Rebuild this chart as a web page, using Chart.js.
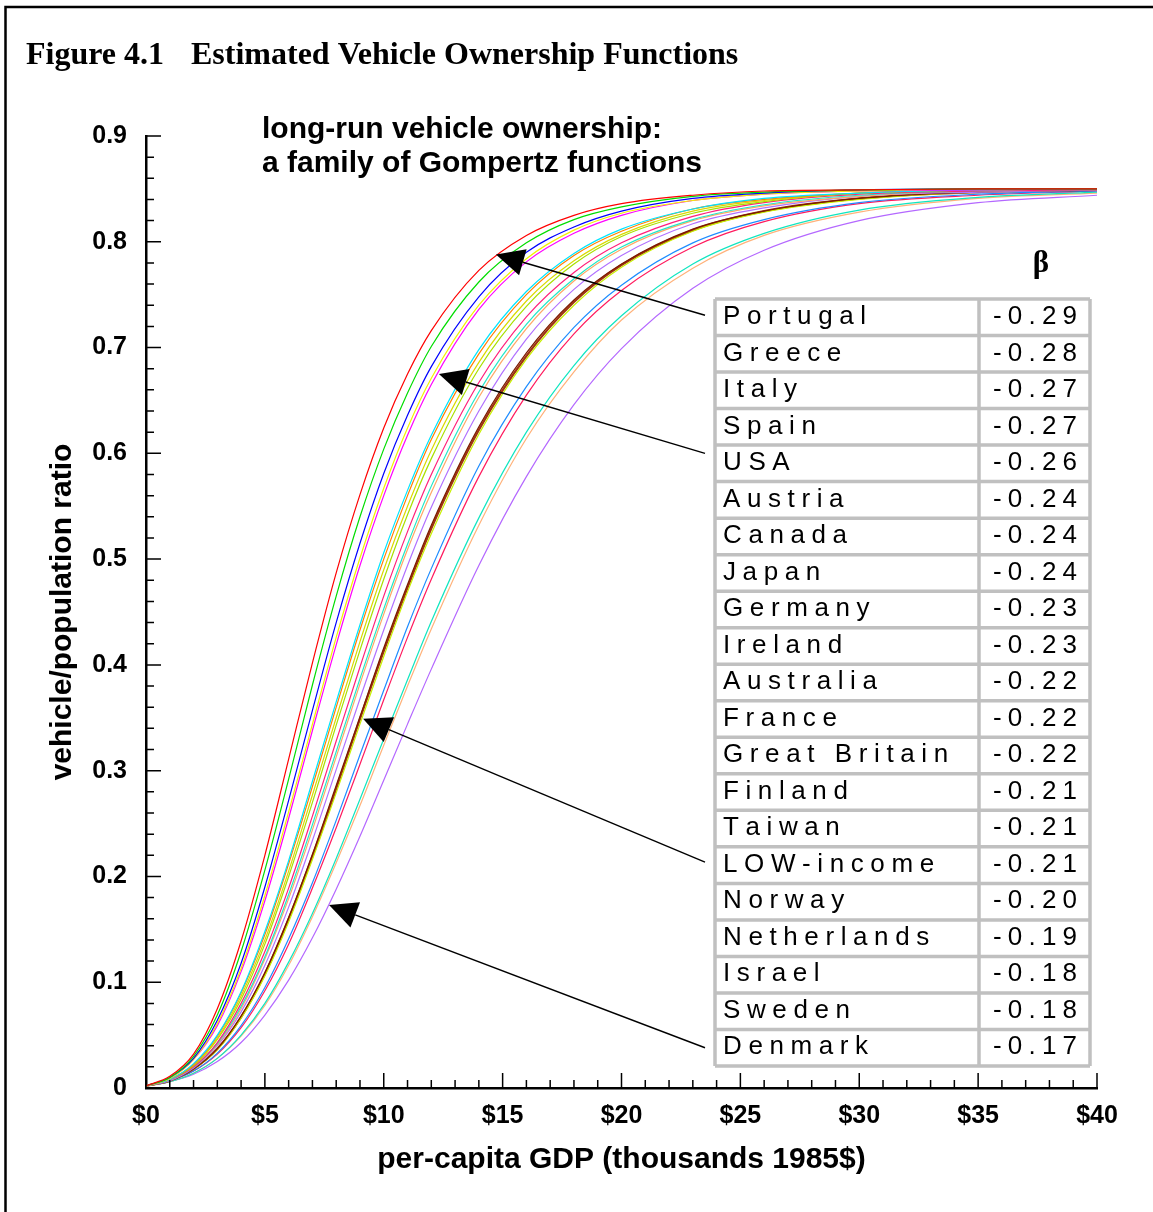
<!DOCTYPE html>
<html>
<head>
<meta charset="utf-8">
<title>Figure 4.1 Estimated Vehicle Ownership Functions</title>
<script src="https://cdn.jsdelivr.net/npm/chart.js@4.4.1/dist/chart.umd.min.js"></script>
<style>
  html, body { margin: 0; padding: 0; background: #fff; }
  canvas { display: block; }
</style>
</head>
<body>
<canvas id="vehicleChart" width="1153" height="1212"></canvas>
<script>
const gdp = [0, 1, 2, 3, 4, 5, 6, 7, 8, 9, 10, 11, 12, 14, 16, 18, 20, 23, 26, 30, 35, 40];

// vehicle/population ratio, at the gdp points above
const portugal     = [0.002, 0.011, 0.032, 0.075, 0.139, 0.220, 0.311, 0.402, 0.487, 0.561, 0.624, 0.675, 0.716, 0.773, 0.806, 0.825, 0.836, 0.844, 0.848, 0.849, 0.850, 0.850];
const greece       = [0.002, 0.010, 0.030, 0.069, 0.129, 0.206, 0.292, 0.381, 0.465, 0.540, 0.604, 0.657, 0.701, 0.762, 0.799, 0.821, 0.833, 0.843, 0.847, 0.849, 0.850, 0.850];
const italy        = [0.002, 0.010, 0.028, 0.064, 0.118, 0.190, 0.272, 0.357, 0.440, 0.515, 0.581, 0.636, 0.682, 0.748, 0.790, 0.814, 0.829, 0.841, 0.846, 0.849, 0.850, 0.850];
const spain        = [0.002, 0.009, 0.027, 0.061, 0.113, 0.182, 0.261, 0.344, 0.426, 0.501, 0.567, 0.624, 0.671, 0.740, 0.784, 0.811, 0.827, 0.839, 0.845, 0.848, 0.850, 0.850];
const usa          = [0.002, 0.009, 0.027, 0.059, 0.110, 0.177, 0.255, 0.338, 0.419, 0.494, 0.560, 0.617, 0.665, 0.736, 0.781, 0.808, 0.825, 0.839, 0.845, 0.848, 0.849, 0.850];
const austria      = [0.002, 0.008, 0.023, 0.050, 0.091, 0.148, 0.215, 0.290, 0.365, 0.438, 0.506, 0.565, 0.617, 0.698, 0.753, 0.789, 0.812, 0.831, 0.841, 0.846, 0.849, 0.850];
const canada       = [0.002, 0.008, 0.022, 0.049, 0.090, 0.145, 0.212, 0.285, 0.360, 0.433, 0.500, 0.560, 0.613, 0.694, 0.750, 0.787, 0.810, 0.831, 0.840, 0.846, 0.849, 0.850];
const japan        = [0.002, 0.008, 0.022, 0.047, 0.087, 0.140, 0.205, 0.277, 0.350, 0.422, 0.490, 0.550, 0.603, 0.686, 0.744, 0.782, 0.807, 0.829, 0.839, 0.846, 0.849, 0.850];
const germany      = [0.002, 0.008, 0.021, 0.046, 0.084, 0.136, 0.200, 0.270, 0.343, 0.414, 0.481, 0.542, 0.595, 0.680, 0.739, 0.779, 0.805, 0.827, 0.838, 0.846, 0.849, 0.850];
const ireland      = [0.002, 0.008, 0.020, 0.043, 0.080, 0.129, 0.189, 0.257, 0.328, 0.398, 0.465, 0.526, 0.580, 0.667, 0.729, 0.771, 0.799, 0.824, 0.837, 0.845, 0.848, 0.849];
const australia    = [0.002, 0.008, 0.020, 0.042, 0.077, 0.124, 0.183, 0.249, 0.318, 0.387, 0.453, 0.514, 0.569, 0.658, 0.722, 0.765, 0.795, 0.821, 0.835, 0.844, 0.848, 0.849];
const france       = [0.002, 0.008, 0.020, 0.041, 0.075, 0.122, 0.179, 0.244, 0.313, 0.382, 0.448, 0.509, 0.563, 0.653, 0.718, 0.763, 0.793, 0.820, 0.834, 0.843, 0.848, 0.849];
const greatBritain = [0.002, 0.007, 0.019, 0.040, 0.072, 0.116, 0.171, 0.234, 0.301, 0.368, 0.433, 0.494, 0.549, 0.640, 0.708, 0.755, 0.787, 0.817, 0.832, 0.843, 0.847, 0.849];
const finland      = [0.002, 0.007, 0.018, 0.037, 0.068, 0.109, 0.161, 0.221, 0.286, 0.351, 0.416, 0.476, 0.532, 0.625, 0.695, 0.745, 0.779, 0.812, 0.829, 0.841, 0.847, 0.849];
const taiwan       = [0.002, 0.007, 0.018, 0.036, 0.066, 0.106, 0.157, 0.216, 0.279, 0.344, 0.408, 0.469, 0.524, 0.618, 0.689, 0.740, 0.776, 0.810, 0.828, 0.840, 0.847, 0.849];
const lowIncome    = [0.002, 0.007, 0.018, 0.037, 0.067, 0.108, 0.160, 0.219, 0.283, 0.349, 0.413, 0.473, 0.529, 0.622, 0.692, 0.743, 0.778, 0.811, 0.829, 0.841, 0.847, 0.849];
const norway       = [0.002, 0.007, 0.016, 0.033, 0.059, 0.095, 0.141, 0.194, 0.253, 0.315, 0.376, 0.436, 0.491, 0.588, 0.663, 0.719, 0.759, 0.799, 0.821, 0.837, 0.845, 0.848];
const netherlands  = [0.002, 0.007, 0.016, 0.032, 0.057, 0.092, 0.136, 0.189, 0.246, 0.306, 0.367, 0.426, 0.481, 0.578, 0.655, 0.713, 0.754, 0.795, 0.819, 0.836, 0.844, 0.848];
const israel       = [0.002, 0.006, 0.014, 0.028, 0.050, 0.080, 0.119, 0.165, 0.217, 0.273, 0.330, 0.386, 0.441, 0.539, 0.620, 0.683, 0.730, 0.779, 0.808, 0.830, 0.842, 0.847];
const sweden       = [0.002, 0.006, 0.014, 0.028, 0.049, 0.078, 0.116, 0.162, 0.213, 0.267, 0.324, 0.380, 0.434, 0.532, 0.614, 0.677, 0.726, 0.775, 0.806, 0.828, 0.841, 0.846];
const denmark      = [0.002, 0.006, 0.013, 0.025, 0.043, 0.069, 0.102, 0.142, 0.188, 0.238, 0.291, 0.344, 0.396, 0.494, 0.578, 0.646, 0.699, 0.756, 0.792, 0.820, 0.837, 0.844];

// table rows: names and estimated beta
const countries = ['Portugal', 'Greece', 'Italy', 'Spain', 'USA', 'Austria', 'Canada', 'Japan',
  'Germany', 'Ireland', 'Australia', 'France', 'Great Britain', 'Finland', 'Taiwan', 'LOW-income',
  'Norway', 'Netherlands', 'Israel', 'Sweden', 'Denmark'];
const betas = ['-0.29', '-0.28', '-0.27', '-0.27', '-0.26', '-0.24', '-0.24', '-0.24',
  '-0.23', '-0.23', '-0.22', '-0.22', '-0.22', '-0.21', '-0.21', '-0.21',
  '-0.20', '-0.19', '-0.18', '-0.18', '-0.17'];
const seriesList = [portugal, greece, italy, spain, usa, austria, canada, japan,
  germany, ireland, australia, france, greatBritain, finland, taiwan, lowIncome,
  norway, netherlands, israel, sweden, denmark];

// axis ticks
const gdpTicks = [0, 5, 10, 15, 20, 25, 30, 35, 40];
const ratioTicks = [0, 0.1, 0.2, 0.3, 0.4, 0.5, 0.6, 0.7, 0.8, 0.9];

// arrows from table rows to a point on the curve (gdp, ratio)
const arrowRows = ['Portugal', 'USA', 'LOW-income', 'Denmark'];
const arrowGdp = [14.72, 12.32, 9.13, 7.70];
const arrowRatio = [0.788, 0.675, 0.349, 0.173];

const lineColors = ['#ff0000', '#00dd00', '#0000ff', '#f2f200', '#ff00ff', '#00e5ff', '#ff8000',
  '#dada00', '#a8e000', '#ff1f7a', '#20e8c8', '#ffa766', '#b070ff', '#7a1a00', '#c8f000',
  '#a0350f', '#1e8cff', '#ff1a5e', '#10e6c0', '#ffb27a', '#b468ff'];

const sans = '"Liberation Sans", Arial, Helvetica, sans-serif';
const serif = '"Liberation Serif", "Times New Roman", serif';

const datasets = countries.map((name, i) => ({
  label: name,
  data: gdp.map((g, j) => ({ x: g, y: seriesList[i][j] })),
  borderColor: lineColors[i],
  borderWidth: name === 'LOW-income' ? 2.2 : 1.2,
  pointRadius: 0,
  cubicInterpolationMode: 'monotone',
  fill: false
}));

function spacedText(ctx, text, x, y, spacing) {
  for (const ch of text) {
    ctx.fillText(ch, x, y);
    x += ctx.measureText(ch).width + spacing;
  }
}

const tableLeft = 715, tableMid = 979, tableRight = 1090, tableTop = 299, tableBottom = 1066;

// titles, inward ticks, beta table and arrows
const decorPlugin = {
  id: 'decor',
  afterDraw(chart) {
    const { ctx, scales: { x, y } } = chart;
    const area = chart.chartArea;
    ctx.save();

    // frame of the figure
    ctx.strokeStyle = '#000';
    ctx.lineWidth = 2.5;
    ctx.beginPath();
    ctx.moveTo(5.5, 1212);
    ctx.lineTo(5.5, 7);
    ctx.lineTo(1153, 7);
    ctx.stroke();

    ctx.fillStyle = '#000';
    ctx.textBaseline = 'alphabetic';
    ctx.textAlign = 'left';
    ctx.font = 'bold 32px ' + serif;
    ctx.fillText('Figure 4.1', 26, 64);
    ctx.fillText('Estimated Vehicle Ownership Functions', 191, 64);

    ctx.font = 'bold 30px ' + sans;
    ctx.fillText('long-run vehicle ownership:', 262, 138);
    ctx.fillText('a family of Gompertz functions', 262, 172);

    // tick marks pointing into the plot
    ctx.lineWidth = 1.5;
    ctx.beginPath();
    for (let v = 0; v <= 40; v++) {
      const px = x.getPixelForValue(v);
      const len = v % 5 === 0 ? 15 : 8;
      ctx.moveTo(px, area.bottom);
      ctx.lineTo(px, area.bottom - len);
    }
    for (let i = 0; i <= 45; i++) {
      const py = y.getPixelForValue(i * 0.02);
      const len = i % 5 === 0 ? 15 : 8;
      ctx.moveTo(area.left, py);
      ctx.lineTo(area.left + len, py);
    }
    ctx.stroke();

    // beta table
    const rowH = (tableBottom - tableTop) / countries.length;
    ctx.fillStyle = '#fff';
    ctx.fillRect(tableLeft, tableTop, tableRight - tableLeft, tableBottom - tableTop);
    ctx.strokeStyle = '#c0c0c0';
    ctx.lineWidth = 3.5;
    ctx.beginPath();
    for (let r = 0; r <= countries.length; r++) {
      const ry = tableTop + r * rowH;
      ctx.moveTo(tableLeft, ry);
      ctx.lineTo(tableRight, ry);
    }
    ctx.moveTo(tableLeft, tableTop); ctx.lineTo(tableLeft, tableBottom);
    ctx.moveTo(tableMid, tableTop); ctx.lineTo(tableMid, tableBottom);
    ctx.moveTo(tableRight, tableTop); ctx.lineTo(tableRight, tableBottom);
    ctx.stroke();

    ctx.fillStyle = '#000';
    ctx.font = '26px ' + sans;
    countries.forEach((name, r) => {
      const base = tableTop + r * rowH + 25;
      spacedText(ctx, name, 723, base, 6.6);
      spacedText(ctx, betas[r], 993, base, 6.2);
    });

    ctx.font = 'bold 31px ' + serif;
    ctx.textAlign = 'center';
    ctx.fillText('\u03b2', 1041, 272);

    // arrows
    ctx.strokeStyle = '#000';
    ctx.lineWidth = 1.4;
    const tailShift = [-2, -10, -3, 0];
    arrowRows.forEach((name, k) => {
      const r = countries.indexOf(name);
      const x1 = tableLeft - 10;
      const y1 = tableTop + (r + 0.5) * rowH + tailShift[k];
      const x2 = x.getPixelForValue(arrowGdp[k]);
      const y2 = y.getPixelForValue(arrowRatio[k]);
      const ang = Math.atan2(y2 - y1, x2 - x1);
      const headLen = 28, headHalf = 13.5;
      const bx = x2 - headLen * Math.cos(ang), by = y2 - headLen * Math.sin(ang);
      ctx.beginPath();
      ctx.moveTo(x1, y1);
      ctx.lineTo(bx, by);
      ctx.stroke();
      ctx.beginPath();
      ctx.moveTo(x2, y2);
      ctx.lineTo(bx - headHalf * Math.sin(ang), by + headHalf * Math.cos(ang));
      ctx.lineTo(bx + headHalf * Math.sin(ang), by - headHalf * Math.cos(ang));
      ctx.closePath();
      ctx.fill();
    });

    ctx.restore();
  }
};

const tickFont = { family: sans, size: 25, weight: 'bold' };
const axisTitleFont = { family: sans, size: 30, weight: 'bold' };

new Chart(document.getElementById('vehicleChart').getContext('2d'), {
  type: 'line',
  data: { datasets: datasets },
  options: {
    responsive: false,
    animation: false,
    devicePixelRatio: 1,
    layout: { padding: { left: 20, top: 136, right: 56, bottom: 24 } },
    plugins: { legend: { display: false }, tooltip: { enabled: false } },
    scales: {
      x: {
        type: 'linear',
        min: 0,
        max: 40,
        afterFit: scale => { scale.height = 100; },
        afterBuildTicks: scale => { scale.ticks = gdpTicks.map(v => ({ value: v })); },
        ticks: { color: '#000', font: tickFont, padding: 13, maxRotation: 0, autoSkip: false, callback: v => '$' + v },
        grid: { display: false, drawTicks: false },
        border: { display: true, color: '#000', width: 2.5 },
        title: { display: true, text: 'per-capita GDP (thousands 1985$)', color: '#000', font: axisTitleFont, padding: { top: 0, bottom: 10 } }
      },
      y: {
        min: 0,
        max: 0.9,
        afterFit: scale => { scale.width = 126; },
        afterBuildTicks: scale => { scale.ticks = ratioTicks.map(v => ({ value: v })); },
        ticks: { color: '#000', font: tickFont, padding: 19, autoSkip: false, callback: v => v === 0 ? '0' : v.toFixed(1) },
        grid: { display: false, drawTicks: false },
        border: { display: true, color: '#000', width: 2.5 },
        title: { display: true, text: 'vehicle/population ratio', color: '#000', font: axisTitleFont, padding: { top: 25, bottom: 0 } }
      }
    }
  },
  plugins: [decorPlugin]
});
</script>
</body>
</html>
